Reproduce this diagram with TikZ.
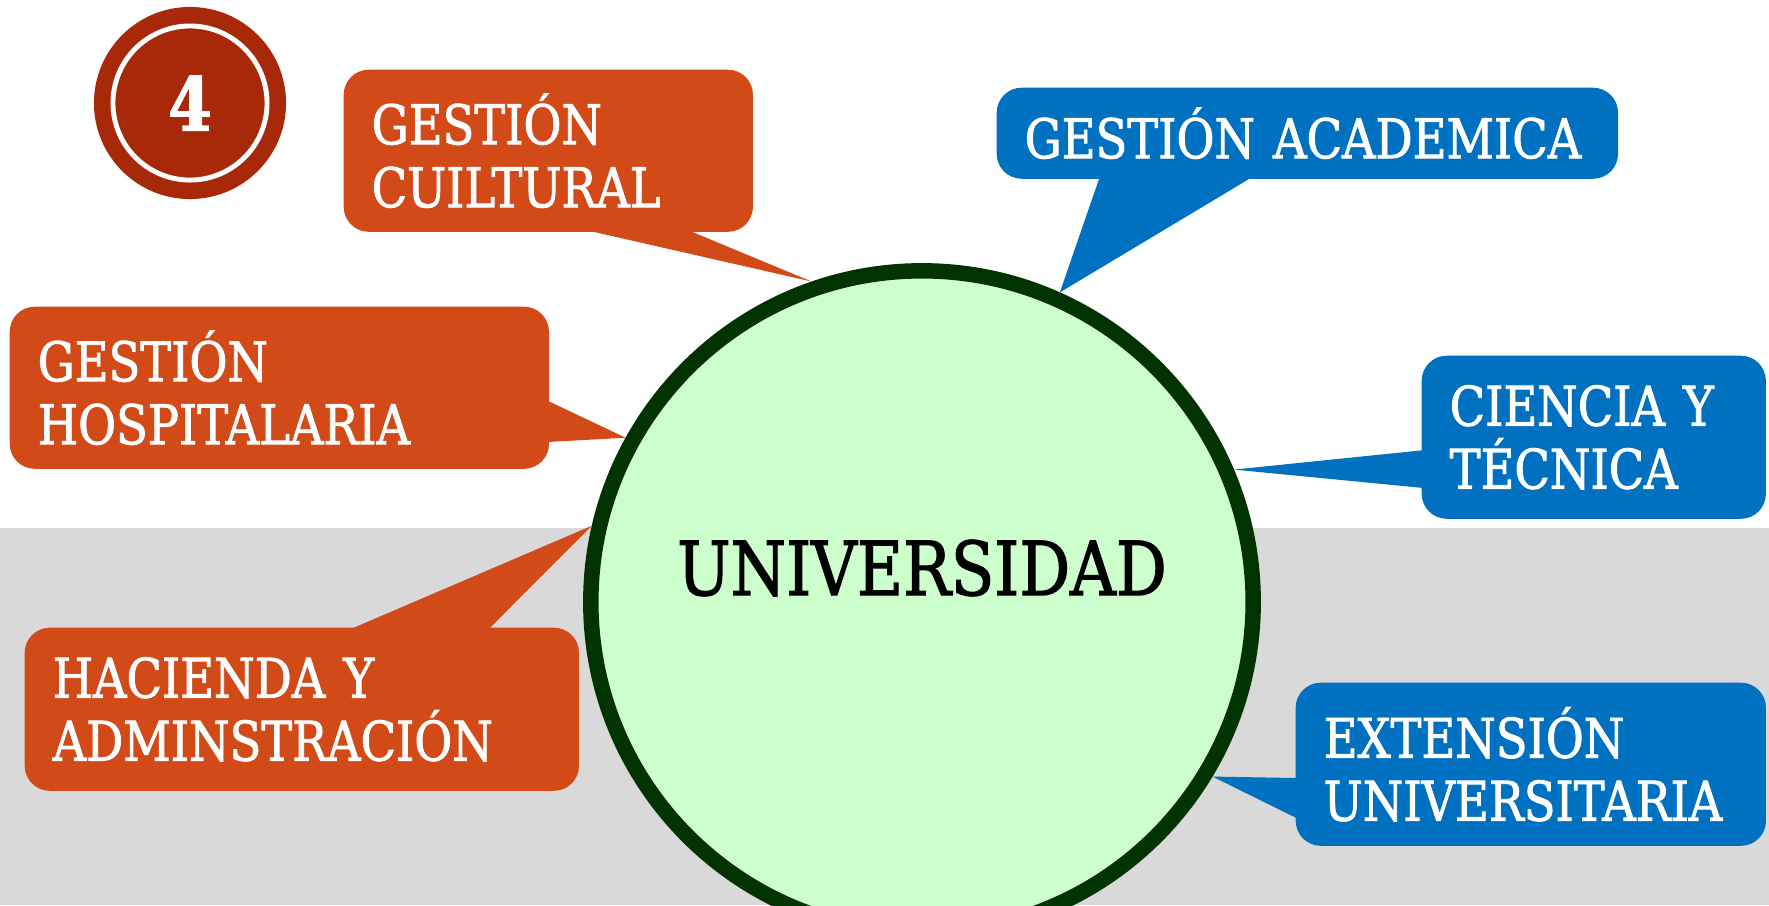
\documentclass[tikz,border=0pt]{standalone}
\usepackage{fontspec}
\setmainfont[FakeStretch=0.85, FakeBold=1.6]{DejaVu Serif}
\usepackage{tikz}
\usetikzlibrary{calc}

\definecolor{naranja}{RGB}{209,74,23}
\definecolor{azul}{RGB}{0,112,192}
\definecolor{verdeclaro}{RGB}{204,255,204}
\definecolor{verdeoscuro}{RGB}{0,51,0}
\definecolor{rojoinsignia}{RGB}{168,40,10}
\definecolor{grisfondo}{RGB}{217,217,217}

\begin{document}
\begin{tikzpicture}[x=0.01cm,y=-0.01cm]
    \tikzstyle{globo} = [rounded corners=0.25cm, inner xsep=0.28cm, inner ysep=0pt, align=left, text=white, anchor=north west, font=\fontsize{15.5}{17.9}\selectfont]
    \clip (0,0) rectangle (1769,905);
    \fill[grisfondo] (0,528) rectangle (1769,905);
    % insignia con el numero
    \node[circle, fill=rojoinsignia, minimum size=1.92cm, inner sep=0pt](insignia) at (190,103){};
    \draw[white, line width=1.4pt] (insignia.center) circle (0.77cm);
    \node[text=white, font=\fontsize{21}{21}\selectfont\bfseries](num) at (insignia.center){4};
    % circulo central
    \node[circle, draw=verdeoscuro, line width=4.4pt, fill=verdeclaro, minimum size=6.62cm, inner sep=0pt](uni) at (922,602){};
    \node[font=\fontsize{21.2}{24}\selectfont, yshift=0.34cm](unitexto) at (uni.center){UNIVERSIDAD};
    % globos
    \node[globo, fill=naranja, minimum width=4.09cm, minimum height=1.62cm, text width=3.53cm](cult) at (343,69){GESTIÓN\\CUILTURAL};
    \node[globo, fill=naranja, minimum width=5.39cm, minimum height=1.62cm, text width=4.83cm](hosp) at (9,306){GESTIÓN\\HOSPITALARIA};
    \node[globo, fill=naranja, minimum width=5.54cm, minimum height=1.63cm, text width=4.98cm](hac) at (24,627){HACIENDA Y\\ADMINSTRACIÓN};
    \node[globo, fill=azul, minimum width=6.21cm, minimum height=0.91cm, text width=5.65cm](acad) at (996,87){GESTIÓN ACADEMICA};
    \node[globo, fill=azul, minimum width=3.44cm, minimum height=1.63cm, text width=2.88cm](cien) at (1421,355){CIENCIA Y\\TÉCNICA};
    \node[globo, fill=azul, minimum width=4.70cm, minimum height=1.63cm, text width=4.14cm](ext) at (1295,682){EXTENSIÓN\\UNIVERSITARIA};
    % colas de los globos
    \fill[naranja] ([xshift=2.38cm, yshift=1pt]cult.south west) -- (uni.109) -- ([xshift=3.42cm, yshift=1pt]cult.south west) -- cycle;
    \fill[naranja] ([xshift=-1pt, yshift=-0.94cm]hosp.north east) -- (uni.151) -- ([xshift=-1pt, yshift=-1.36cm]hosp.north east) -- cycle;
    \fill[naranja] ([xshift=3.23cm, yshift=-1pt]hac.north west) -- (uni.167) -- ([xshift=4.63cm, yshift=-1pt]hac.north west) -- cycle;
    \fill[azul] ([xshift=1.04cm, yshift=1pt]acad.south west) -- (uni.66) -- ([xshift=2.58cm, yshift=1pt]acad.south west) -- cycle;
    \fill[azul] ([xshift=1pt, yshift=-0.95cm]cien.north west) -- (uni.23) -- ([xshift=1pt, yshift=-1.33cm]cien.north west) -- cycle;
    \fill[azul] ([xshift=1pt, yshift=-0.96cm]ext.north west) -- (uni.-31) -- ([xshift=1pt, yshift=-1.37cm]ext.north west) -- cycle;
\end{tikzpicture}
\end{document}
